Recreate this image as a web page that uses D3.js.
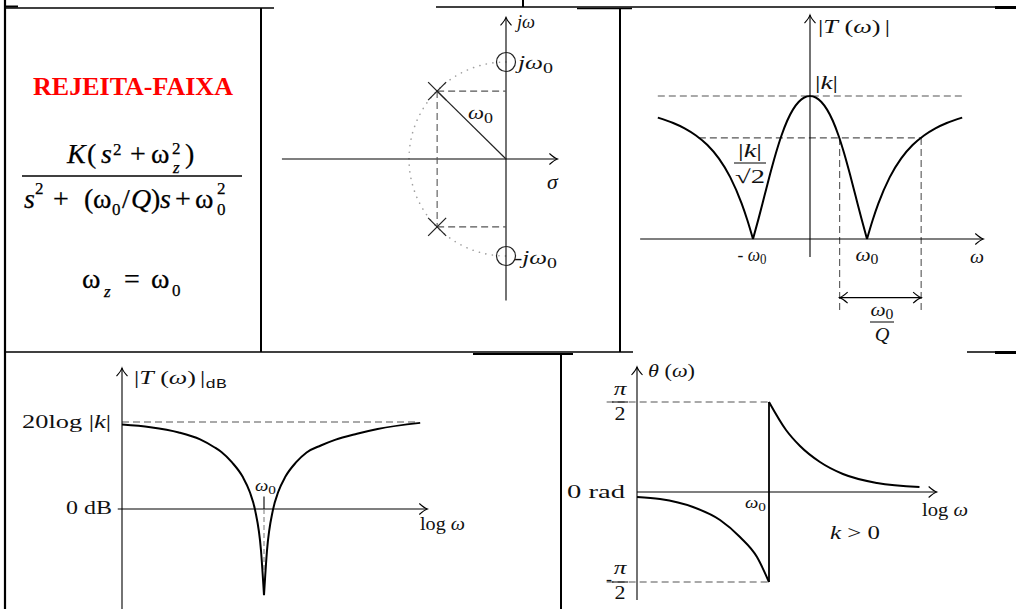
<!DOCTYPE html>
<html>
<head>
<meta charset="utf-8">
<script src="https://cdn.jsdelivr.net/npm/d3@7"></script>
<style>
  body { margin: 0; background: #fff; }
  svg { display: block; }
  text { font-family: "Liberation Serif", "Times New Roman", serif; }
</style>
</head>
<body>
<svg id="chart" width="1016" height="609"></svg>
<script>
// ---------- data ----------
// Pole-zero plot, normalised to ω0
const zeroRe = [0, 0];
const zeroIm = [1, -1];
const poleRe = [-0.71, -0.71];
const poleIm = [0.70, -0.70];

// Linear magnitude |T(ω)|/|k| against ω/ω0
const magW = [-2.67, -2.4, -2.2, -2.0, -1.8, -1.6, -1.4, -1.2, -1.1, -1.0, -0.9, -0.8, -0.7, -0.6, -0.5, -0.4, -0.2, 0,
               0.2, 0.4, 0.5, 0.6, 0.7, 0.8, 0.9, 1.0, 1.1, 1.2, 1.4, 1.6, 1.8, 2.0, 2.2, 2.4, 2.67];
const magT = [0.849, 0.811, 0.774, 0.724, 0.657, 0.564, 0.433, 0.249, 0.133, 0, 0.146, 0.300, 0.454, 0.598, 0.724, 0.827, 0.958, 1,
              0.958, 0.827, 0.724, 0.598, 0.454, 0.300, 0.146, 0, 0.133, 0.249, 0.433, 0.564, 0.657, 0.724, 0.774, 0.811, 0.849];
const halfPowerW = [0.52, 1.95];
const halfPowerT = 0.707;

// Magnitude in dB against log10(ω/ω0); 20log|k| taken as 20 dB
const dbU = [-1, -0.8, -0.6, -0.45, -0.35, -0.3, -0.225, -0.15, -0.1, -0.063, -0.021, 0,
             0.021, 0.063, 0.1, 0.15, 0.225, 0.3, 0.4, 0.5, 0.655, 0.8, 1.1];
const dbV = [19.4, 18.8, 17.6, 16.0, 14.2, 13.1, 10.7, 7.4, 3.9, -0.2, -9.6, -19.8,
             -9.6, -0.2, 3.9, 7.4, 10.7, 13.0, 14.6, 15.9, 17.3, 18.4, 19.8];
const dbRef = 20;

// Phase in degrees against log10(ω/ω0), below and above ω0
const phLoU = [-1, -0.826, -0.576, -0.371, -0.22, -0.091, 0];
const phLoV = [-5, -7, -15, -28, -45, -65, -90];
const phHiU = [0, 0.129, 0.235, 0.386, 0.56, 0.818, 1.14];
const phHiV = [90, 62, 46, 30, 18, 9, 5];

// ---------- helpers ----------
const svg = d3.select("#chart");
svg.append("rect").attr("width", 1016).attr("height", 609).attr("fill", "#fff");

function seg(g, x1, y1, x2, y2, w, col, dash) {
  const l = g.append("line").attr("x1", x1).attr("y1", y1).attr("x2", x2).attr("y2", y2)
    .attr("stroke", col || "#000").attr("stroke-width", w || 1);
  if (dash) l.attr("stroke-dasharray", dash);
  return l;
}
function arrow(g, x, y, dir) {
  const s = 8, w = 5.5;
  let d;
  if (dir === "r") d = `M${x - s},${y - w} Q${x - 3},${y - 1} ${x},${y} Q${x - 3},${y + 1} ${x - s},${y + w}`;
  if (dir === "l") d = `M${x + s},${y - w} Q${x + 3},${y - 1} ${x},${y} Q${x + 3},${y + 1} ${x + s},${y + w}`;
  if (dir === "u") d = `M${x - w},${y + s} Q${x - 1},${y + 3} ${x},${y} Q${x + 1},${y + 3} ${x + w},${y + s}`;
  g.append("path").attr("d", d).attr("fill", "none").attr("stroke", "#000").attr("stroke-width", 1.1);
}
// Math label built from pieces [str, {i:italic, s:size, dy, dx, f:family}];
// the wide math font is imitated by stretching the run horizontally to `width`.
function label(g, x, y, parts, size, anchor, width) {
  const t = g.append("text").attr("x", x).attr("y", y).attr("font-size", size || 19)
    .attr("text-anchor", anchor || "start").style("fill", "#111");
  parts.forEach(p => {
    const o = p[1] || {};
    const ts = t.append("tspan").text(p[0]);
    if (o.i) ts.attr("font-style", "italic");
    if (o.s) ts.attr("font-size", o.s);
    if (o.dy) ts.attr("dy", o.dy);
    if (o.dx) ts.attr("dx", o.dx);
    if (o.f) ts.attr("font-family", o.f);
  });
  if (width) {
    const w = t.node().getBBox().width;
    if (w > 0) t.attr("transform", `translate(${x},0) scale(${width / w},1) translate(${-x},0)`);
  }
  return t;
}
const dashStyle = "7,4";
const dashCol = "#555";

// ---------- table borders ----------
const frame = svg.append("g");
seg(frame, 5, 0, 5, 609, 2.2);
seg(frame, 5, 6.5, 18, 6.5, 2);
seg(frame, 5, 8, 274, 8, 1.6);
seg(frame, 436, 7, 995, 7, 1.4);
seg(frame, 995, 7.5, 1016, 7.5, 3);
seg(frame, 523, 0, 523, 7, 2);
seg(frame, 577, 8.5, 632, 8.5, 1.6);
seg(frame, 261, 8, 261, 352, 2);
seg(frame, 620, 8, 620, 352, 2);
seg(frame, 5, 352, 633, 352, 1.6);
seg(frame, 967, 352, 1016, 352, 1.4);
seg(frame, 995, 352.5, 1016, 352.5, 3);
seg(frame, 473, 354, 573, 354, 2);
seg(frame, 561, 354, 561, 609, 2);

// ---------- panel 1: transfer function ----------
const p1 = svg.append("g");
p1.append("text").attr("x", 133).attr("y", 95).attr("text-anchor", "middle")
  .attr("font-size", 26).attr("font-weight", "bold").style("fill", "#ff0000").text("REJEITA-FAIXA");

function piece(x, y, s, size, italic) {
  const t = p1.append("text").attr("x", x).attr("y", y).attr("font-size", size).style("fill", "#000")
    .attr("stroke", "#000").attr("stroke-width", 0.25).text(s);
  if (italic) t.attr("font-style", "italic");
}
// numerator K(s^2 + ωz^2)
piece(67, 163, "K", 28, true);
piece(87, 163, "(", 28);
piece(101, 163, "s", 28, true);
piece(113, 155, "2", 17);
piece(130, 163, "+", 28);
piece(151, 163, "ω", 28);
piece(172, 154, "2", 17);
piece(173, 173, "z", 17, true);
piece(185, 163, ")", 28);
seg(p1, 22, 176, 242, 176, 1.5);
// denominator s^2 + (ω0/Q)s + ω0^2
piece(24, 208, "s", 28, true);
piece(35, 194, "2", 17);
piece(53, 208, "+", 28);
piece(84, 208, "(", 28);
piece(93, 208, "ω", 28);
piece(112, 215, "0", 17);
piece(122, 208, "/", 28);
piece(131, 208, "Q", 28, true);
piece(151, 208, ")", 28);
piece(160, 208, "s", 28, true);
piece(175, 208, "+", 28);
piece(195, 208, "ω", 28);
piece(217, 194, "2", 17);
piece(217, 215, "0", 17);
// ωz = ω0
piece(82, 288, "ω", 28);
piece(104, 297, "z", 17, true);
piece(124, 288, "=", 28);
piece(151, 288, "ω", 28);
piece(172, 296, "0", 17);

// ---------- panel 2: pole-zero map ----------
const p2 = svg.append("g");
const sx = d3.scaleLinear().domain([0, 1]).range([506, 603]);
const sy = d3.scaleLinear().domain([0, 1]).range([159, 62]);
// dotted circle of radius ω0 through the left half-plane
const r0 = sx(1) - sx(0);
p2.append("path")
  .attr("d", `M${sx(0)},${sy(1)} A${r0},${r0} 0 0 0 ${sx(0)},${sy(-1)}`)
  .attr("fill", "none").attr("stroke", "#a0a0a0").attr("stroke-width", 1.6)
  .attr("stroke-linecap", "round").attr("stroke-dasharray", "0.1,6.5");
// axes
seg(p2, sx(-2.31), sy(0), sx(0.53), sy(0), 1.1);
arrow(p2, sx(0.53), sy(0), "r");
seg(p2, sx(0), sy(-1.46), sx(0), sy(1.46), 1.1);
arrow(p2, sx(0), sy(1.46), "u");
// dashed projections of the upper and lower poles
seg(p2, sx(poleRe[0]), sy(poleIm[0]), sx(0), sy(poleIm[0]), 1.1, dashCol, dashStyle);
seg(p2, sx(poleRe[0]), sy(poleIm[0]), sx(poleRe[1]), sy(poleIm[1]), 1.1, dashCol, dashStyle);
seg(p2, sx(poleRe[1]), sy(poleIm[1]), sx(0), sy(poleIm[1]), 1.1, dashCol, dashStyle);
// radius ω0 to the upper pole
seg(p2, sx(0), sy(0), sx(poleRe[0]), sy(poleIm[0]), 1.2, "#222");
// poles
poleRe.forEach((re, i) => {
  const cx = sx(re), cy = sy(poleIm[i]), a = 9;
  seg(p2, cx - a, cy - a, cx + a, cy + a, 1.2, "#222");
  seg(p2, cx - a, cy + a, cx + a, cy - a, 1.2, "#222");
});
// zeros
zeroRe.forEach((re, i) => {
  p2.append("circle").attr("cx", sx(re)).attr("cy", sy(zeroIm[i])).attr("r", 9.5)
    .attr("fill", "none").attr("stroke", "#222").attr("stroke-width", 1.2);
});
label(p2, 517, 28, [["j", { i: 1 }], ["ω", { i: 1 }]], 19, "start", 21);
label(p2, 547, 189, [["σ", { i: 1 }]], 20, "start", 12);
label(p2, 518, 69, [["j", { i: 1 }], ["ω", { i: 1 }], ["0", { s: 15, dy: 4 }]], 19, "start", 39);
label(p2, 514, 264, [["-", {}], ["j", { i: 1 }], ["ω", { i: 1 }], ["0", { s: 15, dy: 4 }]], 19, "start", 43);
label(p2, 468, 119, [["ω", { i: 1 }], ["0", { s: 15, dy: 4 }]], 19, "start", 25);

// ---------- panel 3: linear magnitude ----------
const p3 = svg.append("g");
const mx = d3.scaleLinear().domain([0, 1]).range([810, 867]);
const my = d3.scaleLinear().domain([0, 1]).range([239, 96]);
// reference levels
seg(p3, mx(-2.67), my(1), mx(2.67), my(1), 1.1, dashCol, dashStyle);
seg(p3, mx(-halfPowerW[1]), my(halfPowerT), mx(halfPowerW[1]), my(halfPowerT), 1.1, dashCol, dashStyle);
halfPowerW.forEach(w => seg(p3, mx(w), my(halfPowerT), mx(w), my(-0.52), 1.1, dashCol, dashStyle));
// bandwidth arrow
seg(p3, mx(halfPowerW[0]), my(-0.41), mx(halfPowerW[1]), my(-0.41), 1.1);
arrow(p3, mx(halfPowerW[1]), my(-0.41), "r");
arrow(p3, mx(halfPowerW[0]), my(-0.41), "l");
// axes
seg(p3, mx(-2.98), my(0), mx(3.04), my(0), 1.1);
arrow(p3, mx(3.04), my(0), "r");
seg(p3, mx(0), my(-0.126), mx(0), my(1.566), 1.1);
arrow(p3, mx(0), my(1.566), "u");
// curve split at the notches so the zeros stay sharp
const magPts = magW.map((w, i) => [w, magT[i]]);
const magSegs = [];
let cur = [];
magPts.forEach(p => {
  cur.push(p);
  if (p[1] === 0 && cur.length > 1) { magSegs.push(cur); cur = [p]; }
});
if (cur.length > 1) magSegs.push(cur);
const magLine = d3.line().x(d => mx(d[0])).y(d => my(d[1])).curve(d3.curveMonotoneX);
magSegs.forEach(s => p3.append("path").attr("d", magLine(s)).attr("fill", "none")
  .attr("stroke", "#000").attr("stroke-width", 2));
label(p3, 818, 33, [["|", {}], ["T", { i: 1 }], [" (", {}], ["ω", { i: 1 }], [")", {}], ["|", { dx: 3 }]], 19, "start", 72);
label(p3, 815, 89, [["|", {}], ["k", { i: 1 }], ["|", {}]], 19, "start", 23);
label(p3, 750, 157, [["|", {}], ["k", { i: 1 }], ["|", {}]], 19, "middle", 24);
seg(p3, 734, 163, 766, 163, 1);
label(p3, 750, 183, [["√2", {}]], 19, "middle", 30);
label(p3, mx(-1) - 1, 261, [["- ", {}], ["ω", { i: 1 }], ["0", { s: 14, dy: 3 }]], 19, "middle", 29);
label(p3, mx(1), 261, [["ω", { i: 1 }], ["0", { s: 14, dy: 3 }]], 19, "middle", 23);
label(p3, 970, 263, [["ω", { i: 1 }]], 19, "start", 14);
label(p3, 882, 316, [["ω", { i: 1 }], ["0", { s: 14, dy: 3 }]], 19, "middle", 23);
seg(p3, 870, 322, 894, 322, 1);
label(p3, 882, 341, [["Q", { i: 1 }]], 19, "middle", 15);

// ---------- panel 4: magnitude in dB ----------
const p4 = svg.append("g");
const dx = d3.scaleLinear().domain([0, 1]).range([264, 406]);
const dy = d3.scaleLinear().domain([0, 20]).range([509, 422]);
seg(p4, dx(-1), dy(dbRef), dx(1.07), dy(dbRef), 1.1, dashCol, dashStyle);
seg(p4, dx(-1.03), dy(0), dx(1.15), dy(0), 1.1);
arrow(p4, dx(1.15), dy(0), "r");
seg(p4, dx(-1), 609, dx(-1), dy(32.4), 1.1);
arrow(p4, dx(-1), dy(32.4), "u");
seg(p4, dx(0), dy(2.9), dx(0), dy(0), 1.1);
seg(p4, dx(0), dy(0), dx(0), dy(-14), 1, "#777", "5,3");
const dbPts = dbU.map((u, i) => [u, dbV[i]]);
const iMin = d3.minIndex(dbV);
const dbLine = d3.line().x(d => dx(d[0])).y(d => dy(d[1])).curve(d3.curveMonotoneX);
[dbPts.slice(0, iMin + 1), dbPts.slice(iMin)].forEach(s =>
  p4.append("path").attr("d", dbLine(s)).attr("fill", "none").attr("stroke", "#000").attr("stroke-width", 2));
label(p4, 134, 384, [["|", {}], ["T", { i: 1 }], [" (", {}], ["ω", { i: 1 }], [")", {}], ["|", { dx: 3 }],
  ["dB", { f: "Liberation Mono, monospace", s: 13, dy: 4 }]], 19, "start", 93);
label(p4, 111, 428, [["20log |", {}], ["k", { i: 1 }], ["|", {}]], 19, "end", 89);
label(p4, 112, 514, [["0 dB", {}]], 18, "end", 46);
label(p4, 420, 530, [["log ", {}], ["ω", { i: 1 }]], 18, "start", 45);
label(p4, 255, 491, [["ω", { i: 1 }], ["0", { s: 13, dy: 3 }]], 16, "start", 21);

// ---------- panel 5: phase ----------
const p5 = svg.append("g");
const hx = d3.scaleLinear().domain([0, 1]).range([769, 901]);
const hy = d3.scaleLinear().domain([0, 90]).range([492, 402]);
seg(p5, hx(-1.23), hy(90), hx(0), hy(90), 1.1, dashCol, dashStyle);
seg(p5, hx(-1.23), hy(-90), hx(0), hy(-90), 1.1, dashCol, dashStyle);
seg(p5, hx(-1), hy(0), hx(1.27), hy(0), 1.1);
arrow(p5, hx(1.27), hy(0), "r");
seg(p5, hx(-1), hy(-108), hx(-1), hy(125), 1.1);
arrow(p5, hx(-1), hy(125), "u");
const phLine = d3.line().x(d => hx(d[0])).y(d => hy(d[1])).curve(d3.curveMonotoneX);
const phLo = phLoU.map((u, i) => [u, phLoV[i]]);
const phHi = phHiU.map((u, i) => [u, phHiV[i]]);
[phLo, phHi].forEach(s => p5.append("path").attr("d", phLine(s)).attr("fill", "none")
  .attr("stroke", "#000").attr("stroke-width", 2));
// jump of π at ω0
seg(p5, hx(0), hy(phLoV[phLoV.length - 1]), hx(0), hy(phHiV[0]), 1.8);
label(p5, 648, 377, [["θ", { i: 1 }], [" (", {}], ["ω", { i: 1 }], [")", {}]], 18, "start", 47);
label(p5, 620, 395, [["π", { i: 1 }]], 18, "middle", 14);
seg(p5, 612, hy(90), 628, hy(90), 1);
label(p5, 620, 420, [["2", {}]], 18, "middle", 11);
label(p5, 606, 585, [["-", {}]], 18);
label(p5, 620, 574, [["π", { i: 1 }]], 18, "middle", 14);
seg(p5, 612, hy(-90), 628, hy(-90), 1);
label(p5, 620, 599, [["2", {}]], 18, "middle", 11);
label(p5, 625, 498, [["0 rad", {}]], 18, "end", 58);
label(p5, 745, 508, [["ω", { i: 1 }], ["0", { s: 13, dy: 3 }]], 16, "start", 21);
label(p5, 922, 516, [["log ", {}], ["ω", { i: 1 }]], 18, "start", 46);
label(p5, 830, 539, [["k", { i: 1 }], [" > 0", {}]], 18, "start", 50);
</script>
</body>
</html>
